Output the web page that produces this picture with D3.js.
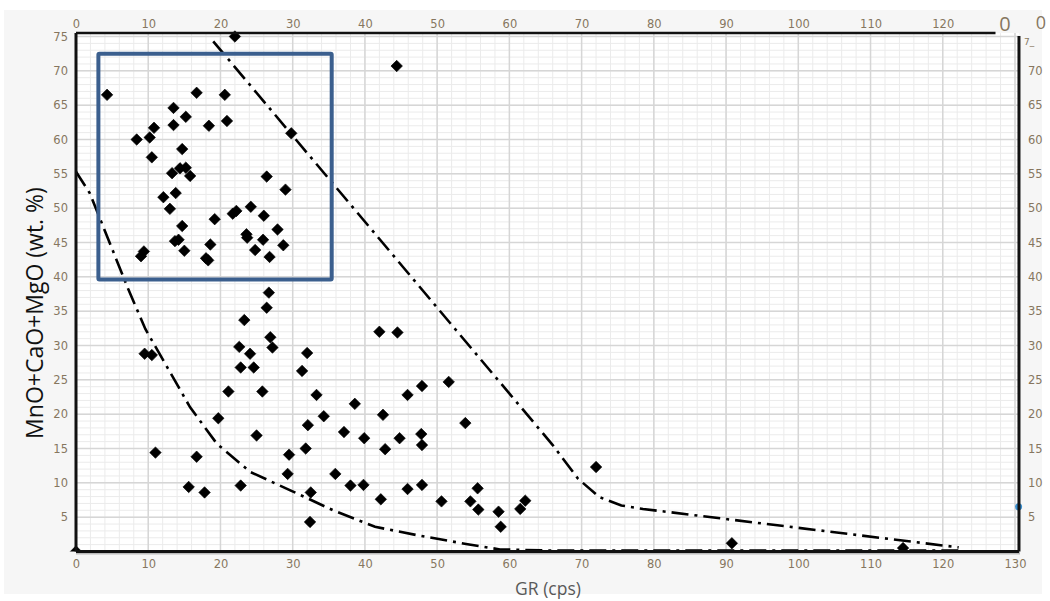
<!DOCTYPE html>
<html><head><meta charset="utf-8">
<script src="https://cdn.jsdelivr.net/npm/d3@7"></script>
<style>html,body{margin:0;padding:0;background:#fff;}svg{display:block;}</style>
</head><body>
<svg id="c" width="1050" height="601"></svg>
<script>
// GR (cps) values of samples
const grValues = [4.3,16.7,20.6,13.5,15.2,20.9,13.5,18.4,10.8,8.4,10.2,29.8,14.7,10.5,13.3,14.4,15.2,15.8,26.4,29.0,
  12.1,13.8,13.0,14.7,13.7,14.2,15.0,9.0,9.4,19.2,18.6,18.0,18.3,21.7,22.2,24.2,26.0,23.6,23.7,25.9,
  27.9,24.8,26.8,28.7,26.7,22.0,44.4,26.4,23.3,26.9,27.2,22.6,24.1,22.8,24.6,9.5,10.5,32.0,31.3,21.1,
  25.8,33.3,19.7,34.3,42.0,44.5,51.6,47.9,45.9,38.6,42.5,32.1,53.9,37.1,39.9,44.8,47.8,47.9,31.8,42.8,
  11.0,16.7,15.6,17.8,22.8,25.0,29.5,29.3,32.5,32.4,35.9,38.0,39.8,42.2,45.9,47.9,50.6,54.6,55.6,55.7,
  58.5,58.8,61.5,62.2,72.0,90.8,114.5,0];
// MnO+CaO+MgO (wt. %) values of samples
const oxideValues = [66.5,66.8,66.5,64.6,63.3,62.7,62.1,62.0,61.7,60.0,60.3,60.9,58.6,57.4,55.1,55.8,55.9,54.7,54.6,52.7,
  51.6,52.2,49.9,47.4,45.2,45.4,43.8,43.0,43.7,48.4,44.7,42.7,42.4,49.2,49.6,50.2,48.9,46.2,45.7,45.4,
  46.9,43.9,42.9,44.6,37.7,75.0,70.7,35.5,33.7,31.2,29.7,29.8,28.8,26.8,26.8,28.8,28.6,28.9,26.3,23.3,
  23.3,22.8,19.4,19.7,32.0,31.9,24.7,24.1,22.8,21.5,19.9,18.4,18.7,17.4,16.5,16.5,17.1,15.5,15.0,14.9,
  14.4,13.8,9.4,8.6,9.6,16.9,14.1,11.3,8.6,4.3,11.3,9.6,9.7,7.6,9.1,9.7,7.3,7.3,9.2,6.1,
  5.8,3.6,6.2,7.4,12.3,1.2,0.5,0];
// edge sample (blue, clipped by frame)
const edgeGR = [130.5];
const edgeOxide = [6.5];
// upper boundary (dash-dot)
const upperGR = [19.0,66.0,69.5,72.5,75.5,78.5,122.2];
const upperOxide = [74.3,15.5,10.6,7.9,6.7,6.2,0.6];
// lower boundary (dash-dot)
const lowerGR = [0,1.9,7.2,9.6,12.7,15.8,19.5,24.1,29.9,35.6,41.4,47.6,54.0,58.7,65,122.5];
const lowerOxide = [55.3,52.2,38.3,32.4,26.7,21.0,15.7,11.6,8.8,6.0,3.6,2.3,1.1,0.3,0.15,0.15];
// highlight box
const boxGR = [3.1,35.4];
const boxOxide = [39.6,72.5];
// tick labels
const xTicks = [0,10,20,30,40,50,60,70,80,90,100,110,120,130];
const xTopTicks = [0,10,20,30,40,50,60,70,80,90,100,110,120];
const yTicks = [5,10,15,20,25,30,35,40,45,50,55,60,65,70,75];
const yRightTicks = [5,10,15,20,25,30,35,40,45,50,55,60,65,70];
const xLabel = "GR (cps)";
const yLabel = "MnO+CaO+MgO (wt. %)";

const svg = d3.select("#c");
const x = d3.scaleLinear().domain([0,130]).range([76,1015]);
const y = d3.scaleLinear().domain([0,75]).range([551.5,36.5]);
const xMax = 130.55, yMax = 75.5;
const L = x(0), R = x(xMax), T = y(yMax), B = y(0);

// panel background
svg.append("rect").attr("x",4).attr("y",10).attr("width",1038).attr("height",584).attr("fill","#f6f6f6");
svg.append("rect").attr("x",L).attr("y",T).attr("width",R-L).attr("height",B-T).attr("fill","#fff");

// grid
const g = svg.append("g");
const minorX = d3.range(0,xMax,2), minorY = d3.range(0,yMax,1);
g.selectAll(".mx").data(minorX).join("line").attr("x1",d=>x(d)).attr("x2",d=>x(d)).attr("y1",T).attr("y2",B)
  .attr("stroke","#ebebeb").attr("stroke-width",1);
g.selectAll(".my").data(minorY).join("line").attr("y1",d=>y(d)).attr("y2",d=>y(d)).attr("x1",L).attr("x2",R)
  .attr("stroke","#ebebeb").attr("stroke-width",1);
g.selectAll(".Mx").data(xTicks).join("line").attr("x1",d=>x(d)).attr("x2",d=>x(d)).attr("y1",T).attr("y2",B)
  .attr("stroke","#d6d6d6").attr("stroke-width",1.5);
g.selectAll(".My").data(yTicks).join("line").attr("y1",d=>y(d)).attr("y2",d=>y(d)).attr("x1",L).attr("x2",R)
  .attr("stroke","#d6d6d6").attr("stroke-width",1.5);

// clip
svg.append("clipPath").attr("id","pc").append("rect").attr("x",L-7).attr("y",T-7).attr("width",R-L+7).attr("height",B-T+7);

// boundary lines
const lineGen = d3.line().x(d=>x(d[0])).y(d=>y(d[1]));
const dash = "17,6,3,6";
svg.append("path").datum(upperGR.map((v,i)=>[v,upperOxide[i]])).attr("d",lineGen)
  .attr("fill","none").attr("stroke","#000").attr("stroke-width",2.6).attr("stroke-dasharray",dash);
svg.append("path").datum(lowerGR.map((v,i)=>[v,lowerOxide[i]])).attr("d",lineGen)
  .attr("fill","none").attr("stroke","#000").attr("stroke-width",2.6).attr("stroke-dasharray",dash);

// points
const sym = d3.symbol().type(d3.symbolSquare).size(66);
svg.append("g").attr("clip-path","url(#pc)").selectAll("path").data(grValues.map((v,i)=>[v,oxideValues[i]])).join("path")
  .attr("d",sym).attr("transform",d=>`translate(${x(d[0])},${y(d[1])}) rotate(45)`).attr("fill","#000")
  .attr("stroke","#000").attr("stroke-width",0.6).attr("stroke-linejoin","round");
svg.append("g").selectAll("circle").data(edgeGR.map((v,i)=>[v,edgeOxide[i]])).join("circle")
  .attr("cx",d=>x(d[0])).attr("cy",d=>y(d[1])).attr("r",3.5).attr("fill","#3a8fd0");

// frame
const frame = svg.append("g");
frame.append("line").attr("x1",L).attr("x2",R+1).attr("y1",B+1.5).attr("y2",B+1.5).attr("stroke","#bbb").attr("stroke-width",3);
frame.append("line").attr("x1",L).attr("x2",R).attr("y1",B).attr("y2",B).attr("stroke","#111").attr("stroke-width",3);
frame.append("line").attr("x1",L).attr("x2",L).attr("y1",T).attr("y2",B).attr("stroke","#111").attr("stroke-width",3);
frame.append("line").attr("x1",R).attr("x2",R).attr("y1",T+3).attr("y2",B).attr("stroke","#111").attr("stroke-width",3);
frame.append("line").attr("x1",L).attr("x2",x(127.3)).attr("y1",T).attr("y2",T).attr("stroke","#111").attr("stroke-width",2.5);

// highlight box
svg.append("rect").attr("x",x(boxGR[0])).attr("y",y(boxOxide[1]))
  .attr("width",x(boxGR[1])-x(boxGR[0])).attr("height",y(boxOxide[0])-y(boxOxide[1]))
  .attr("fill","none").attr("stroke","#3b5f8e").attr("stroke-width",4).attr("rx",1);

// axes
const tickColor = "#86765f";
const fontTick = "DejaVu Sans, Verdana, sans-serif";
function styleAxis(sel){
  sel.select(".domain").remove();
  sel.selectAll(".tick line").remove();
  sel.selectAll("text").attr("fill",tickColor).style("font-family",fontTick).style("font-size","11.5px");
}
svg.append("g").attr("transform",`translate(0,${B})`)
  .call(d3.axisBottom(x).tickValues(xTicks).tickSize(0).tickPadding(8)).call(styleAxis);
svg.append("g").attr("transform",`translate(0,${T})`)
  .call(d3.axisTop(x).tickValues(xTopTicks).tickSize(0).tickPadding(5)).call(styleAxis);
svg.append("g").attr("transform",`translate(${L},0)`)
  .call(d3.axisLeft(y).tickValues(yTicks).tickSize(0).tickPadding(8)).call(styleAxis);
svg.append("g").attr("transform",`translate(${R},0)`)
  .call(d3.axisRight(y).tickValues(yRightTicks).tickSize(0).tickPadding(9)).call(styleAxis);

// corner artefacts
svg.append("text").attr("x",1005).attr("y",31).attr("text-anchor","middle").attr("fill",tickColor)
  .style("font-family","Open Sans, sans-serif").style("font-size","20px").text("0");
svg.append("text").attr("x",1041).attr("y",29).attr("text-anchor","middle").attr("fill",tickColor)
  .style("font-family","Open Sans, sans-serif").style("font-size","18px").text("0");
svg.append("text").attr("x",1024).attr("y",45).attr("fill",tickColor)
  .style("font-family",fontTick).style("font-size","9px").text("7_");

// axis titles
svg.append("text").attr("x",548).attr("y",595).attr("text-anchor","middle").attr("fill","#595959")
  .style("font-family","Open Sans, sans-serif").style("font-size","17.5px").text(xLabel);
svg.append("text").attr("transform","translate(43,313) rotate(-90)").attr("text-anchor","middle").attr("fill","#111")
  .style("font-family","Open Sans, sans-serif").style("font-size","23px").text(yLabel);
</script>
</body></html>
